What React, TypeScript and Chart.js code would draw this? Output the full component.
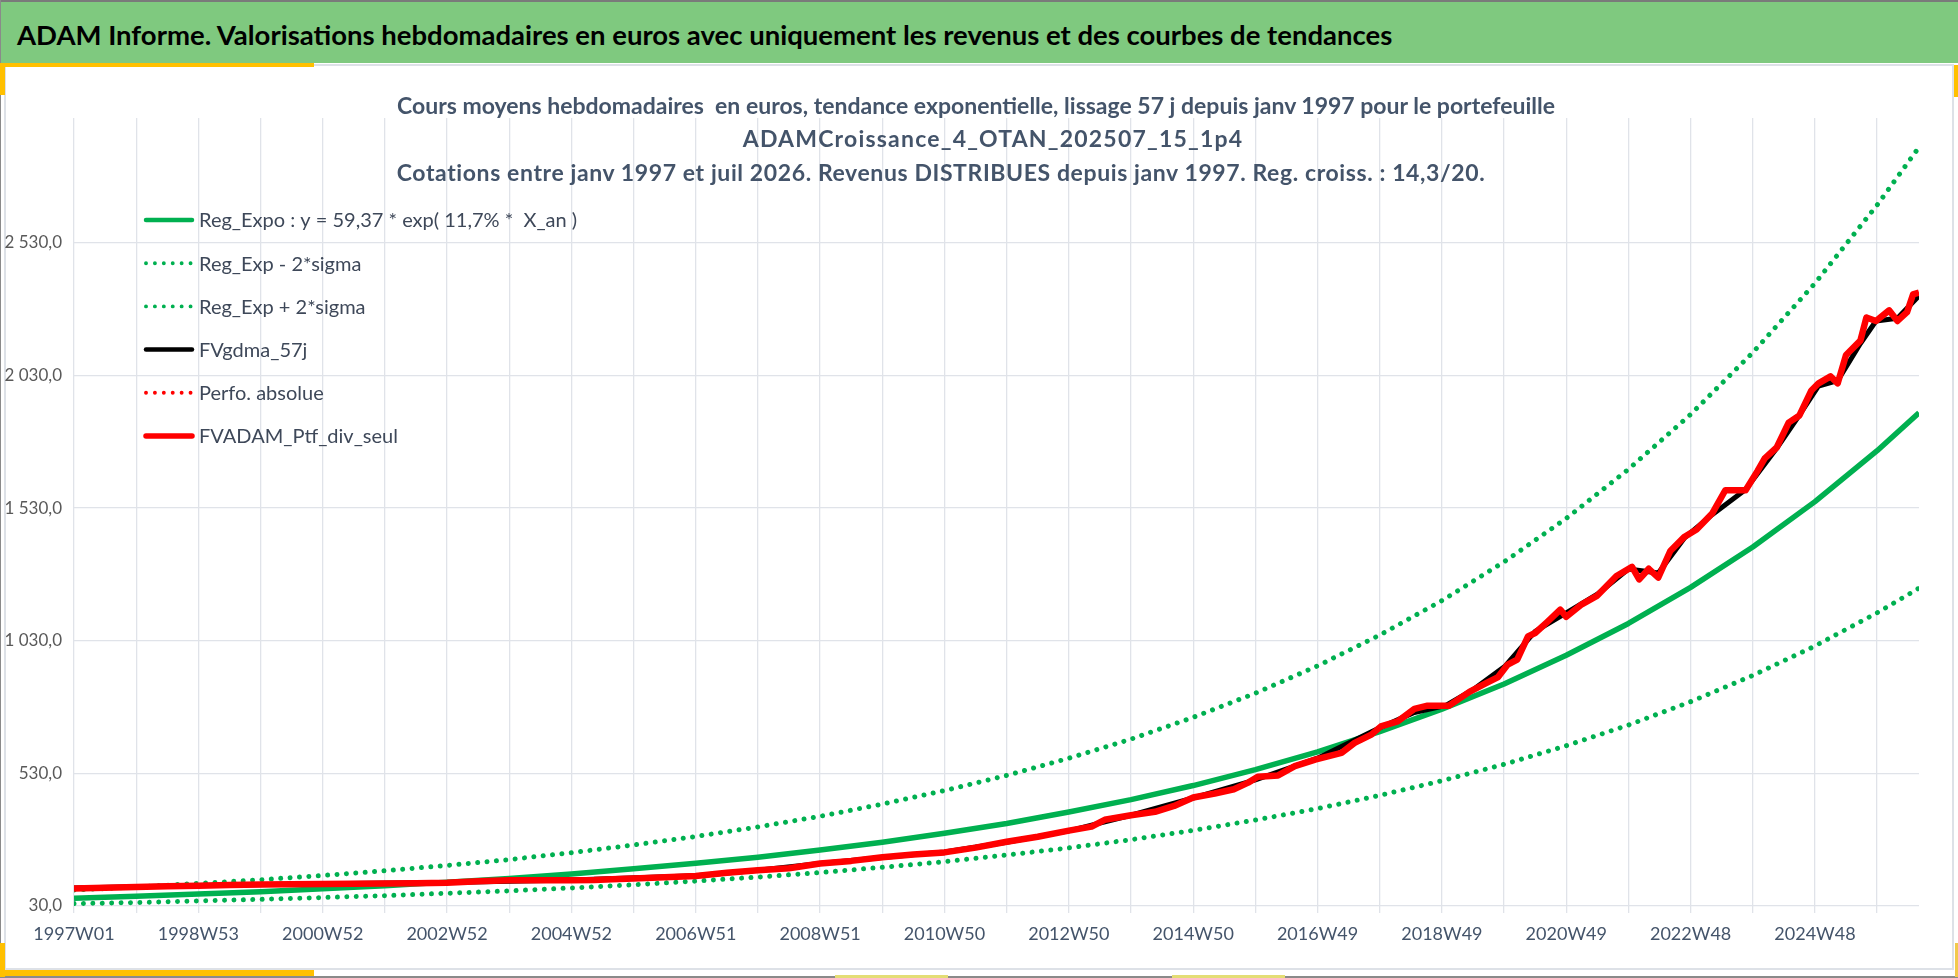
import React, { useEffect, useRef } from "react";
import { Chart, registerables } from "chart.js";

Chart.register(...registerables);

// ---------- texts ----------
const headerTitle =
  "ADAM Informe. Valorisations hebdomadaires en euros avec uniquement les revenus et des courbes de tendances";
const chartTitleLines = [
  "Cours moyens hebdomadaires  en euros, tendance exponentielle, lissage 57 j depuis janv 1997 pour le portefeuille",
  "ADAMCroissance_4_OTAN_202507_15_1p4",
  "Cotations entre janv 1997 et juil 2026. Revenus DISTRIBUES depuis janv 1997. Reg. croiss. : 14,3/20.",
];
const seriesLabels = [
  "Reg_Expo : y = 59,37 * exp( 11,7% *  X_an )",
  "Reg_Exp - 2*sigma",
  "Reg_Exp + 2*sigma",
  "FVgdma_57j",
  "Perfo. absolue",
  "FVADAM_Ptf_div_seul",
];

// ---------- axes ----------
const xTickLabels = [
  "1997W01", "1998W53", "2000W52", "2002W52", "2004W52", "2006W51", "2008W51",
  "2010W50", "2012W50", "2014W50", "2016W49", "2018W49", "2020W49", "2022W48", "2024W48",
];
const weeksPerGrid = 52;
const weeksPerLabel = 104;
const lastWeek = 1543;
const yTickValues = [30, 530, 1030, 1530, 2030, 2530];
const yMin = 30;
const yMax = 3000;

// ---------- series (week index since 1997W01, value in euros) ----------
const trendWeeks = [
  0, 52, 104, 156, 208, 260, 312, 364, 416, 468, 520, 572, 624, 676, 728, 780,
  832, 884, 936, 988, 1040, 1092, 1144, 1196, 1248, 1300, 1352, 1404, 1456, 1508, 1543,
];
const regExpoValues = [
  59, 67, 75, 84, 95, 106, 120, 134, 151, 170, 191, 214, 241, 270, 304, 341,
  384, 431, 484, 544, 611, 687, 772, 867, 975, 1095, 1231, 1383, 1554, 1746, 1889,
];
const regLowerValues = [
  39, 43, 49, 55, 62, 69, 78, 87, 98, 110, 124, 139, 156, 176, 197, 222,
  249, 280, 315, 354, 397, 447, 502, 564, 634, 712, 800, 899, 1010, 1135, 1228,
];
const regUpperValues = [
  90, 102, 115, 129, 145, 163, 183, 205, 231, 260, 292, 328, 368, 414, 465, 522,
  587, 659, 741, 832, 935, 1051, 1181, 1327, 1491, 1676, 1883, 2116, 2377, 2672, 2890,
];

const ptfWeeks = [
  0, 26, 52, 78, 104, 130, 156, 182, 208, 234, 260, 286, 312, 338, 364, 390, 416, 435, 450, 468,
  494, 520, 546, 572, 598, 624, 650, 676, 702, 728, 754, 780, 806, 832, 851, 862, 884, 904, 920,
  936, 954, 970, 982, 990, 1007, 1021, 1038, 1060, 1071, 1085, 1093, 1107, 1121, 1132, 1150, 1167,
  1181, 1191, 1199, 1207, 1216, 1222, 1232, 1243, 1248, 1261, 1274, 1290, 1303, 1309, 1317, 1325,
  1335, 1347, 1357, 1370, 1381, 1398, 1408, 1414, 1424, 1434, 1443, 1453, 1459, 1469, 1475, 1482,
  1494, 1499, 1507, 1518, 1525, 1533, 1538, 1543,
];
const ptfValues = [
  96, 99, 102, 104, 106, 109, 111, 112, 113, 114, 115, 116, 118, 123, 127, 127, 127, 128, 131, 134,
  138, 143, 155, 165, 172, 190, 200, 214, 224, 232, 250, 272, 291, 314, 329, 355, 372, 385, 407,
  439, 454, 470, 495, 517, 522, 557, 582, 607, 645, 676, 707, 726, 773, 785, 785, 837,
  870, 893, 940, 959, 1046, 1059, 1100, 1147, 1120, 1167, 1200, 1274, 1308, 1261, 1301, 1268,
  1368, 1422, 1449, 1509, 1597, 1597, 1670, 1717, 1758, 1852, 1879, 1973, 2000, 2026, 2000, 2107,
  2161, 2248, 2235, 2275, 2235, 2268, 2335, 2342,
];

const smoothWeeks = [
  0, 104, 208, 312, 416, 520, 572, 624, 676, 728, 780, 832, 884, 936, 988, 1040, 1092, 1120, 1147,
  1170, 1197, 1222, 1248, 1274, 1300, 1325, 1347, 1370, 1398, 1424, 1443, 1459, 1475, 1494, 1507,
  1525, 1543,
];
const smoothValues = [
  98, 107, 114, 119, 128, 144, 165, 190, 213, 234, 270, 313, 372, 437, 505, 587, 702, 758, 785,
  845, 935, 1065, 1135, 1205, 1300, 1285, 1418, 1505, 1600, 1755, 1880, 1990, 2010, 2150, 2235,
  2245, 2330,
];

// ---------- styles ----------
const FONT = "Lato, 'Open Sans', sans-serif";
const GREEN = "#00b050";
const RED = "#ff0000";
const BLACK = "#000000";
const GRID = "#e0e3e9";
const TEXT = "#44546a";
const DOT = [0.01, 9.4];

const zip = (xs: number[], ys: number[]) => xs.map((x, i) => ({ x, y: ys[i] }));

const fmtY = (v: number) => {
  const s = v.toFixed(1).replace(".", ",");
  const [intPart, dec] = s.split(",");
  return intPart.replace(/\B(?=(\d{3})+(?!\d))/g, " ") + "," + dec;
};

const legendPlugin = {
  id: "insideLegend",
  afterDraw(chart: any) {
    const ctx = chart.ctx as CanvasRenderingContext2D;
    const x0 = 146;
    const x1 = 192;
    const tx = 199;
    const top = 220;
    const gap = 43.2;
    ctx.save();
    chart.data.datasets.forEach((ds: any, i: number) => {
      const y = top + i * gap;
      ctx.beginPath();
      ctx.strokeStyle = ds.borderColor;
      if (ds.dotted) {
        ctx.setLineDash([0.01, 8.9]);
        ctx.lineCap = "round";
        ctx.lineWidth = 3.9;
      } else {
        ctx.setLineDash([]);
        ctx.lineCap = "round";
        ctx.lineWidth = ds.legendWidth;
      }
      ctx.moveTo(x0, y);
      ctx.lineTo(x1, y);
      ctx.stroke();
      ctx.setLineDash([]);
      ctx.fillStyle = "#3e4859";
      ctx.font = `20px ${FONT}`;
      ctx.textBaseline = "middle";
      ctx.textAlign = "left";
      ctx.fillText(ds.label, tx, y + 1);
    });
    ctx.restore();
  },
};

function ChartCanvas() {
  const ref = useRef<HTMLCanvasElement | null>(null);
  useEffect(() => {
    if (!ref.current) return;
    const gridWeeks: number[] = [];
    for (let w = 0; w <= lastWeek; w += weeksPerGrid) gridWeeks.push(w);
    const chart = new Chart(ref.current, {
      type: "line",
      data: {
        datasets: [
          {
            label: seriesLabels[0],
            data: zip(trendWeeks, regExpoValues),
            borderColor: GREEN,
            borderWidth: 5.5,
            order: 3,
            legendWidth: 4.5,
          } as any,
          {
            label: seriesLabels[1],
            data: zip(trendWeeks, regLowerValues),
            borderColor: GREEN,
            borderWidth: 5,
            borderDash: DOT,
            borderCapStyle: "round",
            order: 4,
            dotted: true,
          } as any,
          {
            label: seriesLabels[2],
            data: zip(trendWeeks, regUpperValues),
            borderColor: GREEN,
            borderWidth: 5,
            borderDash: DOT,
            borderCapStyle: "round",
            order: 5,
            dotted: true,
          } as any,
          {
            label: seriesLabels[3],
            data: zip(smoothWeeks, smoothValues),
            borderColor: BLACK,
            borderWidth: 5,
            order: 1,
            legendWidth: 4.5,
          } as any,
          {
            label: seriesLabels[4],
            data: zip(ptfWeeks, ptfValues),
            borderColor: RED,
            borderWidth: 4,
            borderDash: DOT,
            borderCapStyle: "round",
            order: 2,
            dotted: true,
          } as any,
          {
            label: seriesLabels[5],
            data: zip(ptfWeeks, ptfValues),
            borderColor: RED,
            borderWidth: 6.5,
            order: 0,
            legendWidth: 5.5,
          } as any,
        ],
      },
      options: {
        animation: false,
        responsive: true,
        maintainAspectRatio: false,
        parsing: false as any,
        normalized: true,
        layout: { padding: { left: 0, right: 39, top: 118, bottom: 20 } },
        elements: {
          point: { radius: 0, hoverRadius: 0 },
          line: { tension: 0, borderJoinStyle: "round", fill: false },
        },
        plugins: {
          legend: { display: false },
          tooltip: { enabled: false },
          title: { display: false },
        },
        scales: {
          x: {
            type: "linear",
            min: 0,
            max: lastWeek,
            afterBuildTicks: (axis: any) => {
              axis.ticks = gridWeeks.map((v) => ({ value: v }));
            },
            afterFit: (axis: any) => {
              axis.height = 52;
            },
            border: { display: false },
            grid: { color: GRID, lineWidth: 1.3, drawTicks: true, tickLength: 7, tickColor: GRID },
            ticks: {
              autoSkip: false,
              maxRotation: 0,
              minRotation: 0,
              padding: 10,
              color: TEXT,
              font: { family: FONT, size: 18 },
              callback: (v: any) =>
                Number(v) % weeksPerLabel === 0 ? xTickLabels[Number(v) / weeksPerLabel] ?? "" : "",
            },
          },
          y: {
            min: yMin,
            max: yMax,
            afterBuildTicks: (axis: any) => {
              axis.ticks = yTickValues.map((v) => ({ value: v }));
            },
            afterFit: (axis: any) => {
              axis.width = 74;
            },
            border: { display: false },
            grid: { color: GRID, lineWidth: 1.3, drawTicks: false },
            ticks: {
              padding: 12,
              color: "#595959",
              font: { family: FONT, size: 17 },
              callback: (v: any) => fmtY(Number(v)),
            },
          },
        },
      } as any,
      plugins: [legendPlugin],
    });
    return () => chart.destroy();
  }, []);
  return (
    <canvas
      ref={ref}
      style={{ position: "absolute", left: 0, top: 0, width: "100%", height: "100%" }}
    />
  );
}

const box = (s: React.CSSProperties): React.CSSProperties => ({ position: "absolute", ...s });

export default function App() {
  const titleCenters = [976, 993, 941];
  const titleTops = [105, 138, 172];
  const titleSpacing = [0, 1.2, 0.6];
  return (
    <div
      style={{
        position: "absolute",
        left: 0,
        top: 0,
        width: 1958,
        height: 978,
        background: "#ffffff",
        overflow: "hidden",
        fontFamily: FONT,
      }}
    >
      {/* header */}
      <div style={box({ left: 0, top: 0, width: 1958, height: 63, background: "#7fc97f", borderTop: "2px solid #7a7a7a", boxSizing: "border-box" })} />
      <div
        style={box({
          left: 17,
          top: 34,
          transform: "translateY(-50%)",
          fontSize: 27.5,
          fontWeight: 700,
          color: "#000",
          whiteSpace: "nowrap",
        })}
      >
        {headerTitle}
      </div>
      {/* panel frame */}
      <div style={box({ left: 4, top: 64, width: 1950, height: 906, border: "2px solid #dde1e7", boxSizing: "border-box" })} />
      <div style={box({ left: 0, top: 0, width: 1, height: 978, background: "#8a8a8a" })} />
      <div style={box({ left: 0, top: 976, width: 1958, height: 2, background: "#8a8a8a" })} />
      {/* yellow accents */}
      <div style={box({ left: 0, top: 63, width: 314, height: 4, background: "#ffc000" })} />
      <div style={box({ left: 0, top: 63, width: 5, height: 32, background: "#ffc000" })} />
      <div style={box({ left: 1954, top: 65, width: 4, height: 32, background: "#ffc000" })} />
      <div style={box({ left: 0, top: 943, width: 5, height: 34, background: "#ffc000" })} />
      <div style={box({ left: 0, top: 970, width: 314, height: 6, background: "#ffc000" })} />
      <div style={box({ left: 1955, top: 943, width: 3, height: 34, background: "#f2c94c" })} />
      <div style={box({ left: 835, top: 975, width: 113, height: 3, background: "#e4dd75" })} />
      <div style={box({ left: 1172, top: 975, width: 113, height: 3, background: "#e4dd75" })} />
      {/* chart */}
      <div style={box({ left: 0, top: 0, width: 1958, height: 978 })}>
        <ChartCanvas />
      </div>
      {/* chart title, drawn over the plot */}
      {chartTitleLines.map((t, i) => (
        <div
          key={i}
          style={box({
            left: titleCenters[i],
            top: titleTops[i],
            transform: "translate(-50%, -50%)",
            fontSize: 23,
            fontWeight: 700,
            letterSpacing: titleSpacing[i],
            color: TEXT,
            whiteSpace: "pre",
          })}
        >
          {t}
        </div>
      ))}
    </div>
  );
}
